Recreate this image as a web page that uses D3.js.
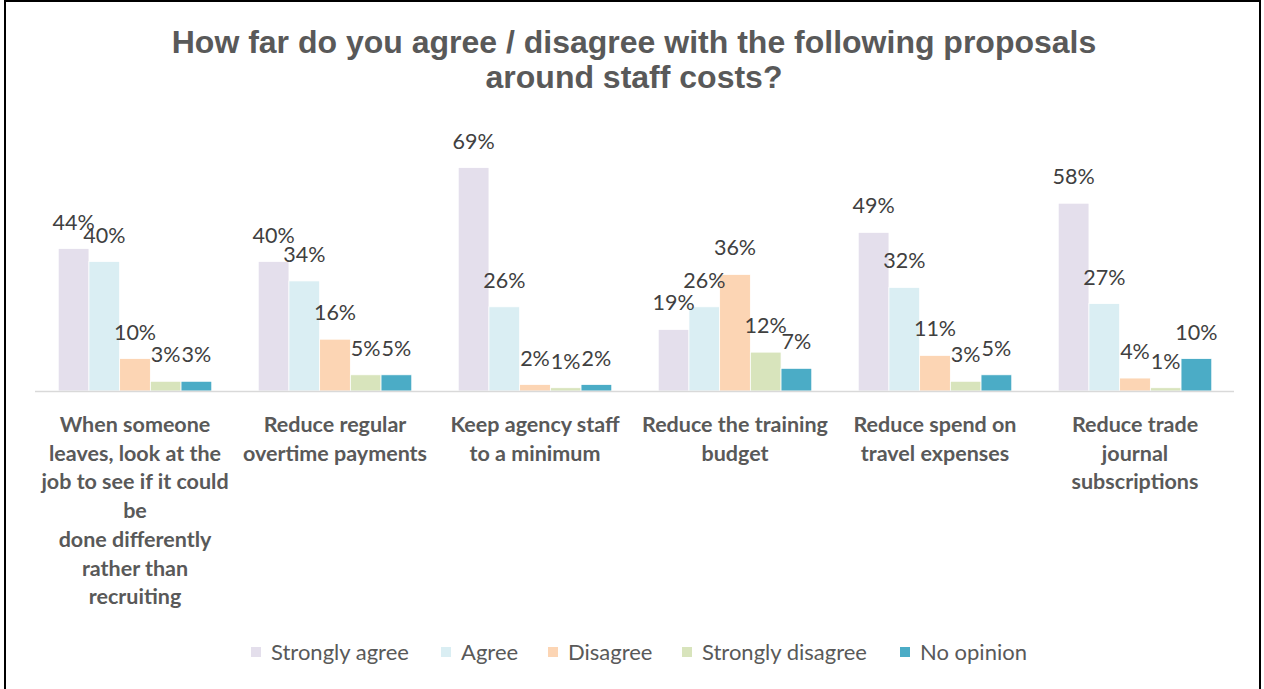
<!DOCTYPE html>
<html>
<head>
<meta charset="utf-8">
<script src="https://cdn.jsdelivr.net/npm/d3@7"></script>
<style>
  html, body { margin: 0; padding: 0; background: #fff; }
  svg { display: block; }
</style>
</head>
<body>
<svg id="chart" width="1264" height="689"></svg>
<script>
// Survey responses, percent of respondents per proposal
const categories = [
  ["When someone", "leaves, look at the", "job to see if it could", "be", "done differently", "rather than", "recruiting"],
  ["Reduce regular", "overtime payments"],
  ["Keep agency staff", "to a minimum"],
  ["Reduce the training", "budget"],
  ["Reduce spend on", "travel expenses"],
  ["Reduce trade", "journal", "subscriptions"]
];
const seriesNames = ["Strongly agree", "Agree", "Disagree", "Strongly disagree", "No opinion"];
const stronglyAgree    = [44, 40, 69, 19, 49, 58];
const agree            = [40, 34, 26, 26, 32, 27];
const disagree         = [10, 16,  2, 36, 11,  4];
const stronglyDisagree = [ 3,  5,  1, 12,  3,  1];
const noOpinion        = [ 3,  5,  2,  7,  5, 10];
const seriesColors = ["#E4DFEC", "#DAEEF3", "#FCD5B4", "#D8E4BC", "#4BACC6"];
const titleLines = ["How far do you agree / disagree with the following proposals", "around staff costs?"];

const seriesValues = [stronglyAgree, agree, disagree, stronglyDisagree, noOpinion];
const rows = categories.map((c, i) => ({
  idx: i,
  lines: c,
  values: seriesNames.map((s, j) => ({ series: s, value: seriesValues[j][i] / 100 }))
}));

const svg = d3.select("#chart");

// outer frame
svg.append("rect")
  .attr("x", 5).attr("y", 1).attr("width", 1255).attr("height", 720)
  .attr("fill", "none").attr("stroke", "#000").attr("stroke-width", 2);

// title
svg.append("text")
  .attr("x", 634).attr("y", 53)
  .attr("text-anchor", "middle")
  .attr("font-family", "'Liberation Sans', Arial, sans-serif")
  .attr("font-weight", "bold")
  .attr("font-size", 32)
  .attr("fill", "#595959")
  .selectAll("tspan").data(titleLines).join("tspan")
  .attr("x", 634).attr("dy", (d, i) => i === 0 ? 0 : 35)
  .text(d => d);

const baseY = 391;
const x0 = d3.scaleBand().domain(d3.range(categories.length)).range([35, 1235])
  .paddingInner(0.2325).paddingOuter(0.11625);
const x1 = d3.scaleBand().domain(seriesNames).range([0, x0.bandwidth()]);
const color = d3.scaleOrdinal().domain(seriesNames).range(seriesColors);
const y = d3.scaleLinear().domain([0, 0.8]).range([baseY, baseY - 259]);

const groups = svg.append("g").selectAll("g").data(rows).join("g")
  .attr("transform", d => `translate(${x0(d.idx)},0)`);

groups.selectAll("rect").data(d => d.values).join("rect")
  .attr("x", d => x1(d.series))
  .attr("y", d => y(d.value))
  .attr("width", x1.bandwidth())
  .attr("height", d => y(0) - y(d.value))
  .attr("fill", d => color(d.series))
  .attr("stroke", "#fff")
  .attr("stroke-width", 0.75);

groups.selectAll("text.val").data(d => d.values).join("text")
  .attr("class", "val")
  .attr("x", d => x1(d.series) + x1.bandwidth() / 2)
  .attr("y", d => y(d.value) - 19)
  .attr("text-anchor", "middle")
  .attr("font-family", "Lato, 'Open Sans', sans-serif")
  .attr("font-size", 21.5)
  .attr("fill", "#404040")
  .text(d => d3.format(".0%")(d.value));

// category axis
const axis = svg.append("g").attr("transform", `translate(0,${baseY})`)
  .call(d3.axisBottom(x0).tickSize(0).tickFormat(""));
axis.select(".domain").attr("stroke", "#D9D9D9").attr("stroke-width", 1.5)
  .attr("d", "M35,0.5H1234");

axis.selectAll(".tick").each(function(d) {
  const t = d3.select(this).append("text")
    .attr("text-anchor", "middle")
    .attr("font-family", "Lato, 'Open Sans', sans-serif")
    .attr("font-weight", "bold")
    .attr("font-size", 21.5)
    .attr("fill", "#595959");
  t.selectAll("tspan").data(categories[d]).join("tspan")
    .attr("x", 0)
    .attr("y", (l, i) => 41 + i * 28.7)
    .text(l => l);
});

// legend
const legendX = [251, 441, 548, 682, 900];
const legend = svg.append("g").selectAll("g").data(seriesNames).join("g")
  .attr("transform", (d, i) => `translate(${legendX[i]},647)`);
legend.append("rect").attr("width", 10).attr("height", 10).attr("fill", d => color(d));
legend.append("text")
  .attr("x", 20).attr("y", 12.5)
  .attr("font-family", "Lato, 'Open Sans', sans-serif")
  .attr("font-size", 22)
  .attr("fill", "#595959")
  .text(d => d);
</script>
</body>
</html>
